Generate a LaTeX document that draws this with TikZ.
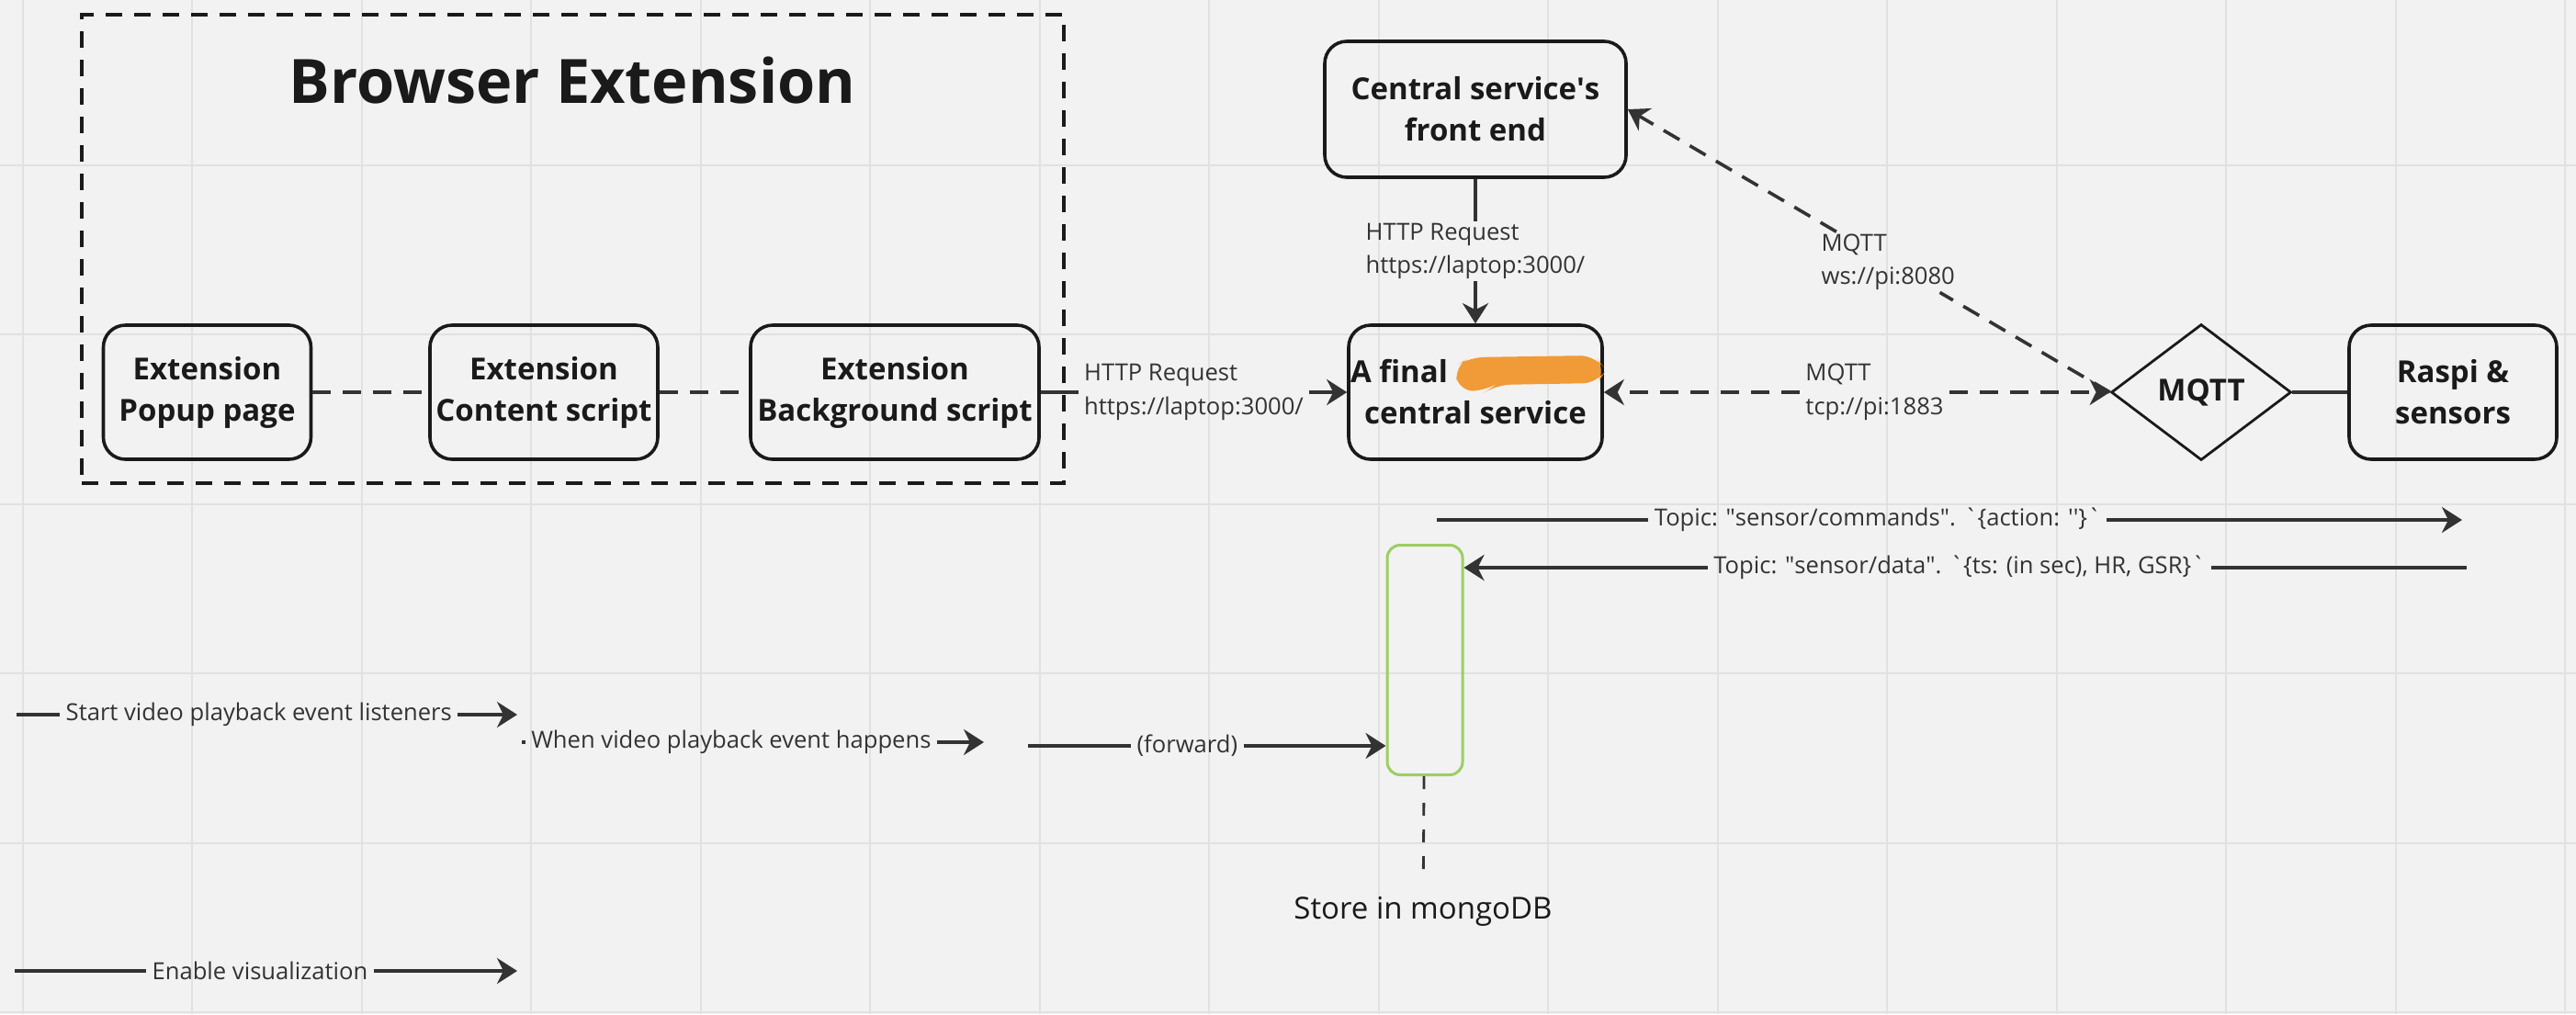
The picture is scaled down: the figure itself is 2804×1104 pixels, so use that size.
\documentclass[tikz,border=0pt]{standalone}
\usepackage{fontspec}
\setmainfont{Open Sans}
\usetikzlibrary{arrows.meta,shapes.geometric,calc}
\definecolor{bgc}{RGB}{242,242,242}
\definecolor{gridc}{RGB}{225,225,225}
\definecolor{boxc}{RGB}{26,26,26}
\definecolor{linec}{RGB}{51,51,51}
\definecolor{greenc}{RGB}{156,206,100}
\definecolor{orangec}{RGB}{241,154,56}
\begin{document}
\begin{tikzpicture}[x=0.5pt,y=-0.5pt,
  box/.style={draw=boxc, line width=1.8pt, rounded corners=12pt, minimum height=73pt,
    align=center, inner sep=0pt, text=boxc,
    font=\fontsize{16.5}{22.5}\selectfont\bfseries},
  lbl/.style={align=left, text=linec, inner xsep=3pt, inner ysep=1pt,
    font=\fontsize{12.8}{18.3}\selectfont},
  cline/.style={draw=linec, line width=1.8pt},
  dline/.style={draw=linec, line width=1.8pt, dash pattern=on 10pt off 6.5pt},
  arr/.style={-{Stealth[length=11pt,width=14pt,inset=3.5pt]}},
  gridline/.style={draw=gridc, line width=1pt}]
\useasboundingbox (0,0) rectangle (2804,1104);
\fill[bgc] (0,0) rectangle (2804,1104);
\foreach \k in {0,...,15} \draw[gridline] ({24.5+184.5*\k},0) -- ({24.5+184.5*\k},1104);
\foreach \k in {1,...,6} \draw[gridline] (0,{-5+184.5*\k}) -- (2804,{-5+184.5*\k});

% browser extension frame
\node[draw=boxc, line width=1.6pt, dash pattern=on 9pt off 6.5pt,
  minimum width=534.5pt, minimum height=255pt, inner sep=0pt] (ext) at (623.5,271) {};
\node[anchor=base, text=boxc, font=\fontsize{33.3}{40}\selectfont\bfseries] (title)
  at (623,112.5) {Browser Extension};

% boxes
\node[box, minimum width=113pt] (popup) at (225.5,427) {Extension\\Popup page};
\node[box, minimum width=124pt] (content) at (592,427) {Extension\\Content script};
\node[box, minimum width=157pt] (bgs) at (974,427) {Extension\\Background script};
\node[box, minimum width=138pt] (central) at (1606,427) {A final\makebox[83pt]{}\\central service};
\fill[orangec, rounded corners=8pt] (1583,399) -- (1600,389) -- (1736,387) -- (1748,403)
  -- (1739,417) -- (1628,419) -- (1619,425) -- (1588,426) -- cycle;
\node[box, minimum width=164pt, minimum height=74pt] (front) at (1606,119) {Central service\textquotesingle s\\front end};
\node[draw=boxc, line width=1.4pt, shape=diamond, minimum width=98pt, minimum height=74pt,
  inner sep=0pt, text=boxc, font=\fontsize{16.5}{20}\selectfont\bfseries] (mqtt) at (2396,427) {MQTT};
\node[box, minimum width=113pt] (raspi) at (2670,427) {Raspi \&\\sensors};
\node[draw=greenc, line width=1.5pt, rounded corners=7pt, minimum width=41pt,
  minimum height=125pt, inner sep=0pt] (green) at (1551,718.5) {};

% connectors top
\draw[dline] (popup) -- (content);
\draw[dline] (content) -- (bgs);
\path (bgs.east) -- (central.west) node[lbl, midway] (l1) {HTTP Request\\https://laptop:3000/};
\draw[cline] (bgs.east) -- (l1);
\draw[cline, arr] (l1) -- (central.west);
\path (front.south) -- (central.north) node[lbl, midway] (l2) {HTTP Request\\https://laptop:3000/};
\draw[cline] (front.south) -- (l2);
\draw[cline, arr] (l2) -- (central.north);
\path (central.east) -- (mqtt.west) node[lbl, pos=0.535] (l3) {MQTT\\tcp://pi:1883};
\draw[dline, arr] (l3) -- (central.east);
\draw[dline, arr] (l3) -- (mqtt.west);
\path (mqtt.west) -- (front.east) node[lbl, pos=0.46] (l4) {MQTT\\ws://pi:8080};
\draw[dline] (mqtt.west) -- (l4);
\draw[dline, arr] (l4) -- (front.east);
\draw[cline] (mqtt) -- (raspi);

% sensor topics
\coordinate (c1) at (1564,566);
\coordinate (c2) at (2680,566);
\path (c1) -- (c2) node[lbl, pos=0.43] (l5) {Topic: \textquotedbl sensor/commands\textquotedbl. \textasciigrave\{action: \textquotesingle\textquotesingle\}\textasciigrave};
\draw[cline] (c1) -- (l5);
\draw[cline, arr] (l5) -- (c2);
\coordinate (d1) at (2685,618);
\path (d1) -- (d1 -| green.east) node[lbl, pos=0.506] (l6) {Topic: \textquotedbl sensor/data\textquotedbl. \textasciigrave\{ts: (in sec), HR, GSR\}\textasciigrave};
\draw[cline] (d1) -- (l6);
\draw[cline, arr] (l6) -- (d1 -| green.east);

% lower flows
\coordinate (f1) at (1119,812);
\path (f1) -- (f1 -| green.west) node[lbl, pos=0.445] (l7) {(forward)};
\draw[cline] (f1) -- (l7);
\draw[cline, arr] (l7) -- (f1 -| green.west);
\coordinate (s1) at (18,778);
\coordinate (s2) at (563,778);
\path (s1) -- (s2) node[lbl, pos=0.484] (l8) {Start video playback event listeners};
\draw[cline] (s1) -- (l8);
\draw[cline, arr] (l8) -- (s2);
\coordinate (w1) at (568,808);
\coordinate (w2) at (1071,808);
\path (w1) -- (w2) node[lbl, pos=0.453] (l9) {When video playback event happens};
\draw[cline] (w1) -- (l9);
\draw[cline, arr] (l9) -- (w2);
\coordinate (e1) at (16,1057);
\coordinate (e2) at (563,1057);
\path (e1) -- (e2) node[lbl, pos=0.488] (l10) {Enable visualization};
\draw[cline] (e1) -- (l10);
\draw[cline, arr] (l10) -- (e2);

% mongo
\node[anchor=base, text=boxc, inner ysep=12pt, font=\fontsize{16.5}{20}\selectfont] (store)
  at (1549,1000) {Store in mongoDB};
\draw[draw=linec, line width=1.4pt, dash pattern=on 7pt off 7.5pt] (green) -- (store);
\end{tikzpicture}
\end{document}
